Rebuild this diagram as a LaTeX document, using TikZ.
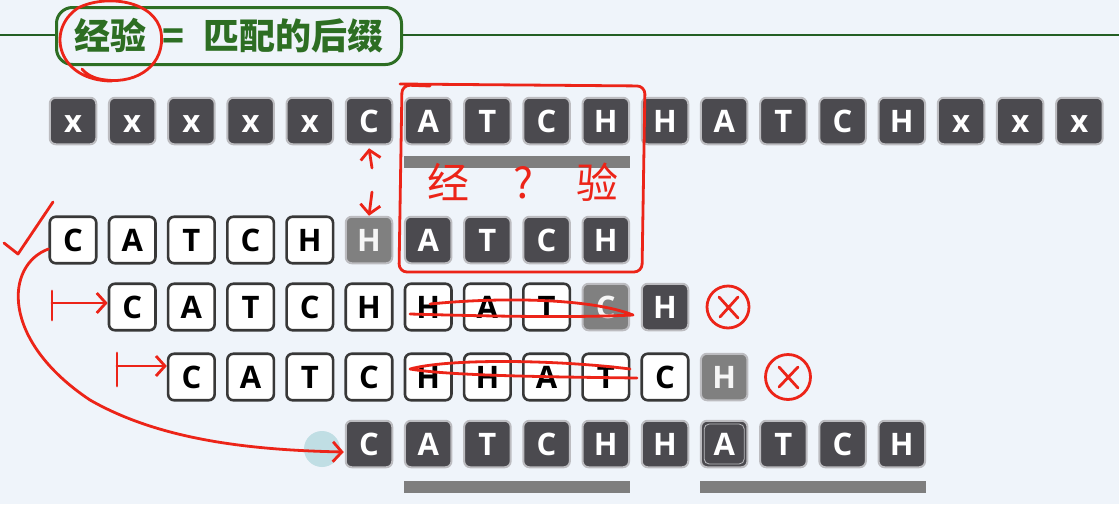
\documentclass[tikz,border=0pt]{standalone}
\usepackage{fontspec}
\setmainfont{Open Sans}
\newfontfamily\cjk{Noto Sans CJK SC}
\usetikzlibrary{calc,arrows.meta}

\definecolor{bgcol}{RGB}{239,244,250}
\definecolor{darkcell}{RGB}{75,74,79}
\definecolor{graycell}{RGB}{128,128,128}
\definecolor{rimcol}{RGB}{188,188,192}
\definecolor{titlegreen}{RGB}{45,110,35}
\definecolor{linegreen}{RGB}{35,95,35}
\definecolor{penred}{RGB}{236,36,24}
\definecolor{barcol}{RGB}{126,126,126}
\definecolor{tealdot}{RGB}{192,222,228}

\tikzset{
  cell/.style={minimum size=46.5pt, rounded corners=6pt, inner sep=0pt,
    text height=22pt, text depth=0pt, font=\bfseries\fontsize{31}{31}\selectfont},
  darkbox/.style={cell, fill=darkcell, draw=rimcol, line width=2pt, text=white},
  whitebox/.style={cell, fill=white, draw=black!78, line width=2.6pt, text=black},
  graybox/.style={cell, fill=graycell, draw=rimcol, line width=2pt, text=white!92!gray},
  pen/.style={penred, line width=2.8pt, line cap=round, line join=round},
  pentip/.style={pen, -{Straight Barb[length=9pt,width=20pt]}},
}

\begin{document}
\begin{tikzpicture}[x=1pt,y=-1pt]
  \def\pitch{59.2}
  \def\colzero{73}

  \useasboundingbox (0,0) rectangle (1119,504);
  \fill[bgcol] (0,0) rectangle (1119,504);

  % title bar
  \draw[linegreen, line width=2pt] (0,35) -- (1119,35);
  \node[fill=bgcol, draw=titlegreen, line width=3pt, rounded corners=16pt,
        minimum width=345pt, minimum height=57pt, text=titlegreen,
        font=\cjk\bfseries\fontsize{36}{36}\selectfont] (title) at (229,36)
        {经验\hspace{16pt}=\hspace{20pt}匹配的后缀};

  % text row
  \foreach \ch [count=\i from 0] in {x,x,x,x,x,C,A,T,C,H,H,A,T,C,H,x,x,x}
    \node[darkbox] (t\i) at ({\colzero+\pitch*\i},121) {\ch};
  \fill[barcol] ($(t6.south west)+(0,11)$) rectangle ($(t9.south east)+(0,23)$);

  % pattern, first try
  \foreach \ch/\sty [count=\i from 0] in {C/whitebox,A/whitebox,T/whitebox,C/whitebox,H/whitebox,
      H/graybox,A/darkbox,T/darkbox,C/darkbox,H/darkbox}
    \node[\sty] (a\i) at ({\colzero+\pitch*\i},240) {\ch};

  % shifted by one
  \foreach \ch/\sty [count=\i from 1] in {C/whitebox,A/whitebox,T/whitebox,C/whitebox,H/whitebox,
      H/whitebox,A/whitebox,T/whitebox,C/graybox,H/darkbox}
    \node[\sty] (b\i) at ({\colzero+\pitch*\i},307) {\ch};

  % shifted by two
  \foreach \ch/\sty [count=\i from 2] in {C/whitebox,A/whitebox,T/whitebox,C/whitebox,H/whitebox,
      H/whitebox,A/whitebox,T/whitebox,C/whitebox,H/graybox}
    \node[\sty] (c\i) at ({\colzero+\pitch*\i},377) {\ch};

  % shifted by five
  \fill[tealdot] (322,449) circle (18);
  \foreach \ch [count=\i from 5] in {C,A,T,C,H,H,A,T,C,H}
    \node[darkbox] (d\i) at ({\colzero+\pitch*\i},444) {\ch};
  \node[draw=rimcol, line width=0.8pt, rounded corners=5pt, minimum size=40pt] (ring) at (d11) {};
  \fill[barcol] ($(d6.south west)+(0,13)$) rectangle ($(d9.south east)+(0,25)$);
  \fill[barcol] ($(d11.south west)+(0,13)$) rectangle ($(d14.south east)+(0,25)$);

  % red pen notes
  \draw[pen] (112,81) .. controls (58,81) and (45,30) .. (78,8)
    .. controls (105,-6) and (155,0) .. (161,32)
    .. controls (166,64) and (138,84) .. (106,80)
    .. controls (94,79) and (86,74) .. (82,69);
  \draw[pen, rounded corners=8pt] (430,86) -- (402,85) -- (399,272) -- (642,272)
    -- (645,86) -- (400,84);
  \node[penred, font=\cjk\fontsize{42}{42}\selectfont] (guess) at (523,182)
    {经\hspace{44pt}?\hspace{44pt}验};

  \coordinate (upfrom) at (372,168);
  \coordinate (downfrom) at (372,192);
  \draw[pentip] (upfrom) -- ($(t5.south)+(0,3)$);
  \draw[pentip] (downfrom) -- (a5.north);

  \draw[pen] (4,243) -- (18,254) -- (53,202);
  \draw[pentip] ($(a0.west)+(0,9)$) .. controls (5,265) and (0,340) .. (90,400)
    .. controls (160,440) and (250,450) .. ($(d5.west)+(-1,8)$);

  \coordinate (shiftone) at (52,303);
  \coordinate (shifttwo) at (117,366);
  \draw[pen] (52,291) -- (52,320);
  \draw[pentip] (shiftone) -- ($(b1.west)+(0,-4)$);
  \draw[pen] (117,353) -- (117,386);
  \draw[pentip] (shifttwo) -- ($(c2.west)+(0,-11)$);

  \draw[pen] (430,304) .. controls (500,297) and (590,298) .. (633,315)
    .. controls (570,318) and (480,316) .. (410,314);
  \draw[pen] (630,369) .. controls (560,360) and (450,358) .. (410,369)
    .. controls (450,376) and (560,377) .. (637,378);

  \node[pen, draw, circle, minimum size=42pt] (missone) at (728,307) {};
  \draw[pen] (719,297) -- (738,318) (738,297) -- (720,317);
  \node[pen, draw, circle, minimum size=45pt] (misstwo) at (788,377) {};
  \draw[pen] (779,367) -- (798,388) (798,367) -- (779,387);
\end{tikzpicture}
\end{document}
